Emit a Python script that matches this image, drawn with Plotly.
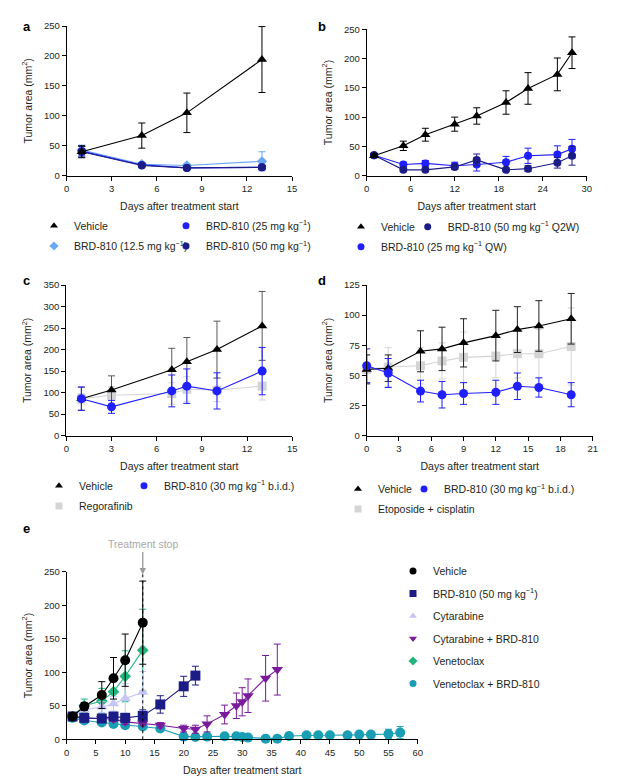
import plotly.graph_objects as go

W, H = 628, 781

# ---------------- Panel a ----------------
a_days = [1, 5, 8, 13]
a_vehicle = [40, 67, 105, 194]
a_vehicle_err = [10, 21, 33, 55]
a_brd12 = [43, 19, 17, 24]
a_brd12_err = [8, 3, 3, 16]
a_brd25 = [41, 18, 13, 14]
a_brd25_err = [8, 3, 2, 3]
a_brd50 = [40, 17, 13, 14]
a_brd50_err = [9, 2, 2, 3]

# ---------------- Panel b ----------------
b_days = [1, 5, 8, 12, 15, 19, 22, 26, 28]
b_vehicle = [34, 51, 70, 88, 102, 125, 149, 173, 210]
b_vehicle_err = [3, 8, 11, 12, 14, 20, 27, 28, 27]
b_brd50 = [35, 10, 10, 15, 27, 10, 12, 22, 34]
b_brd50_err = [2, 3, 3, 4, 10, 3, 5, 9, 16]
b_brd25 = [35, 19, 21, 17, 19, 23, 34, 36, 46]
b_brd25_err = [3, 4, 5, 6, 11, 10, 13, 15, 16]

# ---------------- Panel c ----------------
c_days = [1, 3, 7, 8, 10, 13]
c_vehicle = [86, 106, 153, 172, 200, 255]
c_vehicle_err = [27, 33, 50, 56, 66, 80]
c_brd = [86, 67, 104, 115, 104, 150]
c_brd_err = [27, 15, 37, 40, 42, 55]
c_rego = [86, 94, 98, 108, 106, 115]
c_rego_err = [12, 20, 25, 29, 27, 32]

# ---------------- Panel d ----------------
d_days = [0, 2, 5, 7, 9, 12, 14, 16, 19]
d_vehicle = [55, 56, 70, 72, 77, 83, 88, 91, 97]
d_vehicle_err = [12, 11, 17, 18, 20, 21, 19, 21, 21]
d_brd = [58, 52, 37, 34, 35, 36, 41, 40, 34]
d_brd_err = [14, 12, 9, 11, 9, 10, 11, 8, 10]
d_eto = [55, 57, 58, 62, 65, 66, 68, 68, 74]
d_eto_err = [12, 16, 15, 15, 21, 18, 20, 20, 32]

# ---------------- Panel e ----------------
e_vehicle_days = [1, 3, 6, 8, 10, 13]
e_vehicle = [34, 49, 66, 91, 118, 174]
e_vehicle_err = [2, 6, 20, 31, 39, 62]
e_brd_days = [1, 3, 6, 8, 10, 13, 16, 20, 22]
e_brd = [34, 32, 31, 34, 32, 35, 52, 79, 95]
e_brd_err = [2, 3, 4, 4, 6, 9, 13, 15, 14]
e_cyt_days = [1, 3, 6, 8, 10, 13]
e_cyt = [34, 44, 48, 53, 61, 70]
e_cyt_err = [3, 5, 8, 11, 22, 31]
e_cytbrd_days = [1, 3, 6, 8, 10, 13, 16, 20, 22, 24, 27, 29, 30, 31, 34, 36]
e_cytbrd = [34, 31, 31, 30, 26, 24, 21, 16, 15, 23, 37, 50, 56, 65, 91, 104]
e_cytbrd_err = [2, 3, 3, 3, 4, 4, 4, 5, 6, 12, 14, 19, 21, 25, 34, 38]
e_ven_days = [1, 3, 6, 8, 10, 13]
e_ven = [34, 50, 57, 71, 94, 133]
e_ven_err = [3, 10, 19, 20, 38, 61]
e_venbrd_days = [1, 3, 6, 8, 10, 13, 16, 20, 22, 24, 27, 29, 30, 31, 34, 36,
                 38, 41, 43, 45, 48, 50, 52, 55, 57]
e_venbrd = [32, 28, 25, 23, 21, 19, 16, 4, 3.5, 4, 4.5, 4.5, 3.5, 2.5, 1, 1,
            5, 6, 6, 6, 6, 7, 7, 8, 10]
e_venbrd_err = [2, 2, 2, 2, 2, 2, 2, 2, 1, 1, 1, 1, 1, 1, 1, 1,
                1, 1, 1, 1, 1, 2, 2, 7, 9]

C_BLACK = "#000000"
C_LBLUE = "#6aa8f2"
C_BLUE = "#1f1fff"
C_NAVY = "#1c1c86"
C_GREY = "#d4d4d4"
C_LAV = "#c6c6f6"
C_PURPLE = "#7a1a9c"
C_GREEN = "#22b47c"
C_TEAL = "#1a9eb3"

FONT = "Liberation Sans, Arial, sans-serif"
TXT = "#231f20"
LEG_FS = 10.5

fig = go.Figure()


def add(x, y, err, color, symbol, size, xa, ya, err_color=None):
    fig.add_trace(go.Scatter(
        x=x, y=y, mode="lines+markers", showlegend=False, hoverinfo="x+y",
        error_y=dict(type="data", array=err, color=err_color or color, thickness=1, width=3.5),
        line=dict(color=color, width=1.1),
        marker=dict(symbol=symbol, size=size, color=color, line=dict(width=0)),
        xaxis=xa, yaxis=ya, cliponaxis=False,
    ))


def key(name, color, symbol, xa, ya, legend, group, size=7):
    # legend-only entry (no data points)
    fig.add_trace(go.Scatter(
        x=[None], y=[None], mode="markers", name=name,
        marker=dict(symbol=symbol, size=size, color=color, line=dict(width=0)),
        xaxis=xa, yaxis=ya, legend=legend, legendgroup=group, showlegend=True,
    ))


# panel a
add(a_days, a_brd12, a_brd12_err, C_LBLUE, "diamond", 8, "x", "y")
add(a_days, a_brd25, a_brd25_err, C_BLUE, "circle", 8, "x", "y")
add(a_days, a_brd50, a_brd50_err, C_NAVY, "circle", 8, "x", "y")
add(a_days, a_vehicle, a_vehicle_err, C_BLACK, "triangle-up", 9, "x", "y")

# panel b
add(b_days, b_brd25, b_brd25_err, C_BLUE, "circle", 8, "x2", "y2")
add(b_days, b_brd50, b_brd50_err, C_NAVY, "circle", 8, "x2", "y2")
add(b_days, b_vehicle, b_vehicle_err, C_BLACK, "triangle-up", 9, "x2", "y2")

# panel c
add(c_days, c_rego, c_rego_err, C_GREY, "square", 9, "x3", "y3")
add(c_days, c_vehicle, c_vehicle_err, C_BLACK, "triangle-up", 9, "x3", "y3", "#5a5a5a")
add(c_days, c_brd, c_brd_err, C_BLUE, "circle", 9, "x3", "y3")

# panel d
add(d_days, d_eto, d_eto_err, C_GREY, "square", 9, "x4", "y4")
add(d_days, d_vehicle, d_vehicle_err, C_BLACK, "triangle-up", 9, "x4", "y4", "#222222")
add(d_days, d_brd, d_brd_err, C_BLUE, "circle", 9, "x4", "y4")

# panel e
add(e_venbrd_days, e_venbrd, e_venbrd_err, C_TEAL, "circle", 10, "x5", "y5")
add(e_ven_days, e_ven, e_ven_err, C_GREEN, "diamond", 9, "x5", "y5")
add(e_cytbrd_days, e_cytbrd, e_cytbrd_err, C_PURPLE, "triangle-down", 10, "x5", "y5")
add(e_cyt_days, e_cyt, e_cyt_err, C_LAV, "triangle-up", 10, "x5", "y5")
add(e_brd_days, e_brd, e_brd_err, C_NAVY, "square", 10, "x5", "y5")
add(e_vehicle_days, e_vehicle, e_vehicle_err, C_BLACK, "circle", 10, "x5", "y5")

# legend keys
key("Vehicle", C_BLACK, "triangle-up", "x", "y", "legend", "a1")
key("BRD-810 (25 mg kg<sup>−1</sup>)", C_BLUE, "circle", "x", "y", "legend2", "a2")
key("BRD-810 (12.5 mg kg<sup>−1</sup>)", C_LBLUE, "diamond", "x", "y", "legend3", "a3")
key("BRD-810 (50 mg kg<sup>−1</sup>)", C_NAVY, "circle", "x", "y", "legend4", "a4")

key("Vehicle", C_BLACK, "triangle-up", "x2", "y2", "legend5", "b1")
key("BRD-810 (50 mg kg<sup>−1</sup> Q2W)", C_NAVY, "circle", "x2", "y2", "legend6", "b2")
key("BRD-810 (25 mg kg<sup>−1</sup> QW)", C_BLUE, "circle", "x2", "y2", "legend7", "b3")

key("Vehicle", C_BLACK, "triangle-up", "x3", "y3", "legend8", "c1")
key("BRD-810 (30 mg kg<sup>−1</sup> b.i.d.)", C_BLUE, "circle", "x3", "y3", "legend9", "c2")
key("Regorafinib", C_GREY, "square", "x3", "y3", "legend10", "c3")

key("Vehicle", C_BLACK, "triangle-up", "x4", "y4", "legend11", "d1")
key("BRD-810 (30 mg kg<sup>−1</sup> b.i.d.)", C_BLUE, "circle", "x4", "y4", "legend12", "d2")
key("Etoposide + cisplatin", C_GREY, "square", "x4", "y4", "legend13", "d3")

key("Vehicle", C_BLACK, "circle", "x5", "y5", "legend14", "e1")
key("BRD-810 (50 mg kg<sup>−1</sup>)", C_NAVY, "square", "x5", "y5", "legend14", "e2")
key("Cytarabine", C_LAV, "triangle-up", "x5", "y5", "legend14", "e3")
key("Cytarabine + BRD-810", C_PURPLE, "triangle-down", "x5", "y5", "legend14", "e4")
key("Venetoclax", C_GREEN, "diamond", "x5", "y5", "legend14", "e5")
key("Venetoclax + BRD-810", C_TEAL, "circle", "x5", "y5", "legend14", "e6")


def px_x(p):
    return p / W


def px_y(p):
    return 1 - p / H


def xaxis(l, r, rng, dtick, anchor):
    return dict(domain=[px_x(l), px_x(r)], range=rng, dtick=dtick, tick0=0,
                anchor=anchor, showline=True, linecolor="#000", linewidth=1,
                ticks="outside", ticklen=4, tickcolor="#000", tickwidth=1,
                showgrid=False, zeroline=False, fixedrange=True, automargin=False,
                tickfont=dict(size=9.5, color=TXT, family=FONT),
                title=dict(text="Days after treatment start", standoff=9,
                           font=dict(size=10.5, color=TXT, family=FONT)))


def yaxis(t, b, rng, dtick, anchor):
    return dict(domain=[px_y(b), px_y(t)], range=rng, dtick=dtick, tick0=0,
                anchor=anchor, showline=True, linecolor="#000", linewidth=1,
                ticks="outside", ticklen=4, tickcolor="#000", tickwidth=1,
                showgrid=False, zeroline=False, fixedrange=True, automargin=False,
                tickfont=dict(size=9.5, color=TXT, family=FONT),
                title=dict(text="Tumor area (mm<sup>2</sup>)", standoff=9,
                           font=dict(size=10.5, color=TXT, family=FONT)))


def leg(x_text, y_center):
    return dict(x=px_x(x_text - 39), y=px_y(y_center), xanchor="left", yanchor="middle",
                orientation="v", font=dict(size=LEG_FS, color=TXT, family=FONT),
                bgcolor="rgba(0,0,0,0)", borderwidth=0, itemwidth=30)


fig.update_layout(
    width=W, height=H, margin=dict(l=0, r=0, t=0, b=0, autoexpand=False),
    paper_bgcolor="white", plot_bgcolor="white",
    font=dict(family=FONT, color=TXT, size=10.5),
    xaxis=xaxis(66.7, 292, [0, 15], 3, "y"),
    yaxis=yaxis(26, 175.7, [0, 250], 50, "x"),
    xaxis2=xaxis(366.7, 586.7, [0, 30], 6, "y2"),
    yaxis2=yaxis(29.3, 175.7, [0, 250], 50, "x2"),
    xaxis3=xaxis(66.3, 292.3, [0, 15], 3, "y3"),
    yaxis3=yaxis(285, 435.7, [0, 350], 50, "x3"),
    xaxis4=xaxis(366.7, 592.7, [0, 21], 3, "y4"),
    yaxis4=yaxis(285, 435.7, [0, 125], 25, "x4"),
    xaxis5=xaxis(66.7, 417.7, [0, 60], 5, "y5"),
    yaxis5=yaxis(571.7, 739.3, [0, 250], 50, "x5"),
    legend=leg(73, 225.7),
    legend2=leg(205, 225.7),
    legend3=leg(73, 246),
    legend4=leg(205, 246),
    legend5=leg(380, 226.7),
    legend6=leg(446.7, 226.7),
    legend7=leg(380, 246.7),
    legend8=leg(78, 485.7),
    legend9=leg(163, 485.7),
    legend10=leg(78, 506),
    legend11=leg(377, 489),
    legend12=leg(443, 489),
    legend13=leg(377, 509),
    legend14=dict(x=px_x(432 - 39), y=px_y(556.5), xanchor="left", yanchor="top",
                  orientation="v", font=dict(size=LEG_FS, color=TXT, family=FONT),
                  bgcolor="rgba(0,0,0,0)", borderwidth=0, itemwidth=30,
                  tracegroupgap=3.5, traceorder="grouped"),
    showlegend=True,
)

# panel letters
for letter, x, y in [("a", 21, 17), ("b", 322, 17), ("c", 21, 280), ("d", 322, 280), ("e", 21, 538)]:
    fig.add_annotation(x=px_x(x), y=px_y(y), xref="paper", yref="paper", text="<b>%s</b>" % letter,
                       showarrow=False, font=dict(size=13, color="#000", family=FONT))

# treatment stop marker in panel e
fig.add_shape(type="line", xref="x5", yref="y5", x0=13, x1=13, y0=0, y1=250,
              line=dict(color="#000", width=1, dash="dot"))
fig.add_annotation(x=13, y=246, xref="x5", yref="y5", text="Treatment stop",
                   showarrow=True, ax=0, ay=-30, arrowhead=2, arrowsize=1, arrowwidth=1.3,
                   arrowcolor="#9a9a9a", font=dict(size=10.5, color="#a8a8a8", family=FONT))

fig.write_html("out.html", config={"displayModeBar": False},
               post_script="document.body.style.margin='0';document.body.style.padding='0';")
